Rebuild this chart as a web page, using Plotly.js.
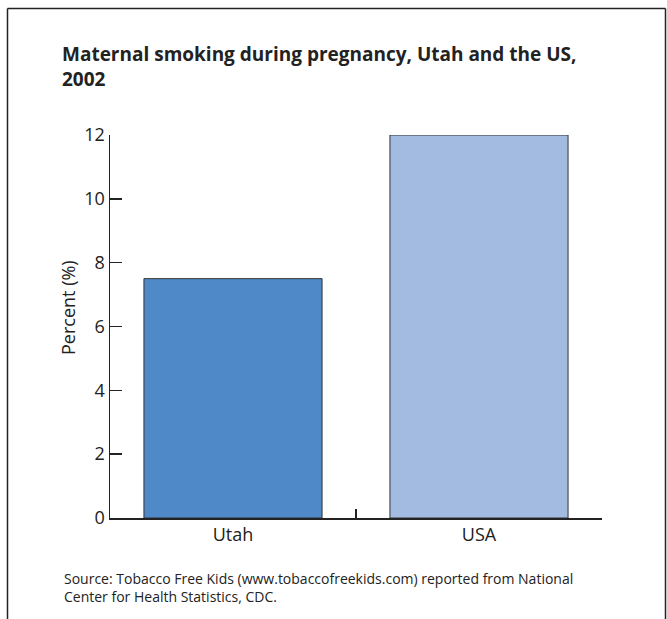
<!DOCTYPE html>
<html>
<head>
<meta charset="utf-8">
<script src="https://cdn.plot.ly/plotly-3.0.1.min.js"></script>
<style>
  html, body { margin: 0; padding: 0; background: #fff; }
  #chart { width: 667px; height: 619px; }
</style>
</head>
<body>
<div id="chart"></div>
<script>
// Maternal smoking during pregnancy, 2002
const regions = ["Utah", "USA"];
const percentSmoking = [7.5, 12];
const barColors = ["#4f89c8", "#a3bbe0"];
const yTickValues = [0, 2, 4, 6, 8, 10, 12];

const FONT = "Open Sans, Noto Sans, DejaVu Sans, sans-serif";
const INK = "#222222";

// plot area in pixels
const W = 667, H = 619;
const M = { l: 110, r: 65, t: 135, b: 101 };
const plotW = W - M.l - M.r;
const plotH = H - M.t - M.b;
const px = x => (x - M.l) / plotW;          // pixel x -> paper x
const py = y => (H - M.b - y) / plotH;      // pixel y -> paper y

const trace = {
  type: "bar",
  x: regions,
  y: percentSmoking,
  width: 0.724,
  marker: {
    color: barColors,
    line: { color: "#333333", width: 1 }
  },
  hoverinfo: "x+y"
};

// figure frame: top, left and right edges (the bottom runs off the page)
const frameLine = { color: INK, width: 1.5 };
const shapes = [
  { type: "line", xref: "paper", yref: "paper", x0: px(7.5), x1: px(665.5), y0: py(8.5), y1: py(8.5), line: frameLine },
  { type: "line", xref: "paper", yref: "paper", x0: px(7.5), x1: px(7.5), y0: py(8.5), y1: py(640), line: frameLine },
  { type: "line", xref: "paper", yref: "paper", x0: px(665.5), x1: px(665.5), y0: py(8.5), y1: py(640), line: frameLine }
];

const layout = {
  width: W,
  height: H,
  margin: M,
  paper_bgcolor: "#ffffff",
  plot_bgcolor: "#ffffff",
  showlegend: false,
  font: { family: FONT, color: INK },
  title: {
    text: "<b>Maternal smoking during pregnancy, Utah and the US,<br>2002</b>",
    font: { family: FONT, size: 19, color: INK },
    xref: "container", yref: "container",
    x: 62 / W, xanchor: "left",
    y: 1 - 61 / H, yanchor: "top"
  },
  xaxis: {
    type: "category",
    range: [-0.5, 1.5],
    showline: true, linecolor: INK, linewidth: 1.5,
    ticks: "inside", ticklen: 9, tickwidth: 1.5, tickcolor: INK,
    tickson: "boundaries",
    showgrid: false, zeroline: false,
    tickfont: { family: FONT, size: 18, color: INK },
    fixedrange: true
  },
  yaxis: {
    range: [0, 12],
    tickvals: yTickValues,
    ticktext: yTickValues.map(String),
    showline: true, linecolor: INK, linewidth: 1.5,
    ticks: "inside", ticklen: 12, tickwidth: 1.5, tickcolor: INK,
    showgrid: false, zeroline: false,
    tickfont: { family: FONT, size: 18, color: INK },
    automargin: false,
    fixedrange: true
  },
  shapes: shapes,
  annotations: [
    {
      // y-axis title
      text: "Percent (%)",
      xref: "paper", yref: "paper",
      x: px(68), y: py(308),
      xanchor: "center", yanchor: "middle",
      textangle: -90,
      showarrow: false,
      font: { family: FONT, size: 18, color: INK }
    },
    {
      text: "Source: Tobacco Free Kids (www.tobaccofreekids.com) reported from National<br>Center for Health Statistics, CDC.",
      xref: "paper", yref: "paper",
      x: px(62), xanchor: "left",
      y: py(567), yanchor: "top",
      align: "left",
      showarrow: false,
      font: { family: FONT, size: 14, color: INK }
    }
  ]
};

Plotly.newPlot("chart", [trace], layout, { displayModeBar: false, staticPlot: true });
</script>
</body>
</html>
